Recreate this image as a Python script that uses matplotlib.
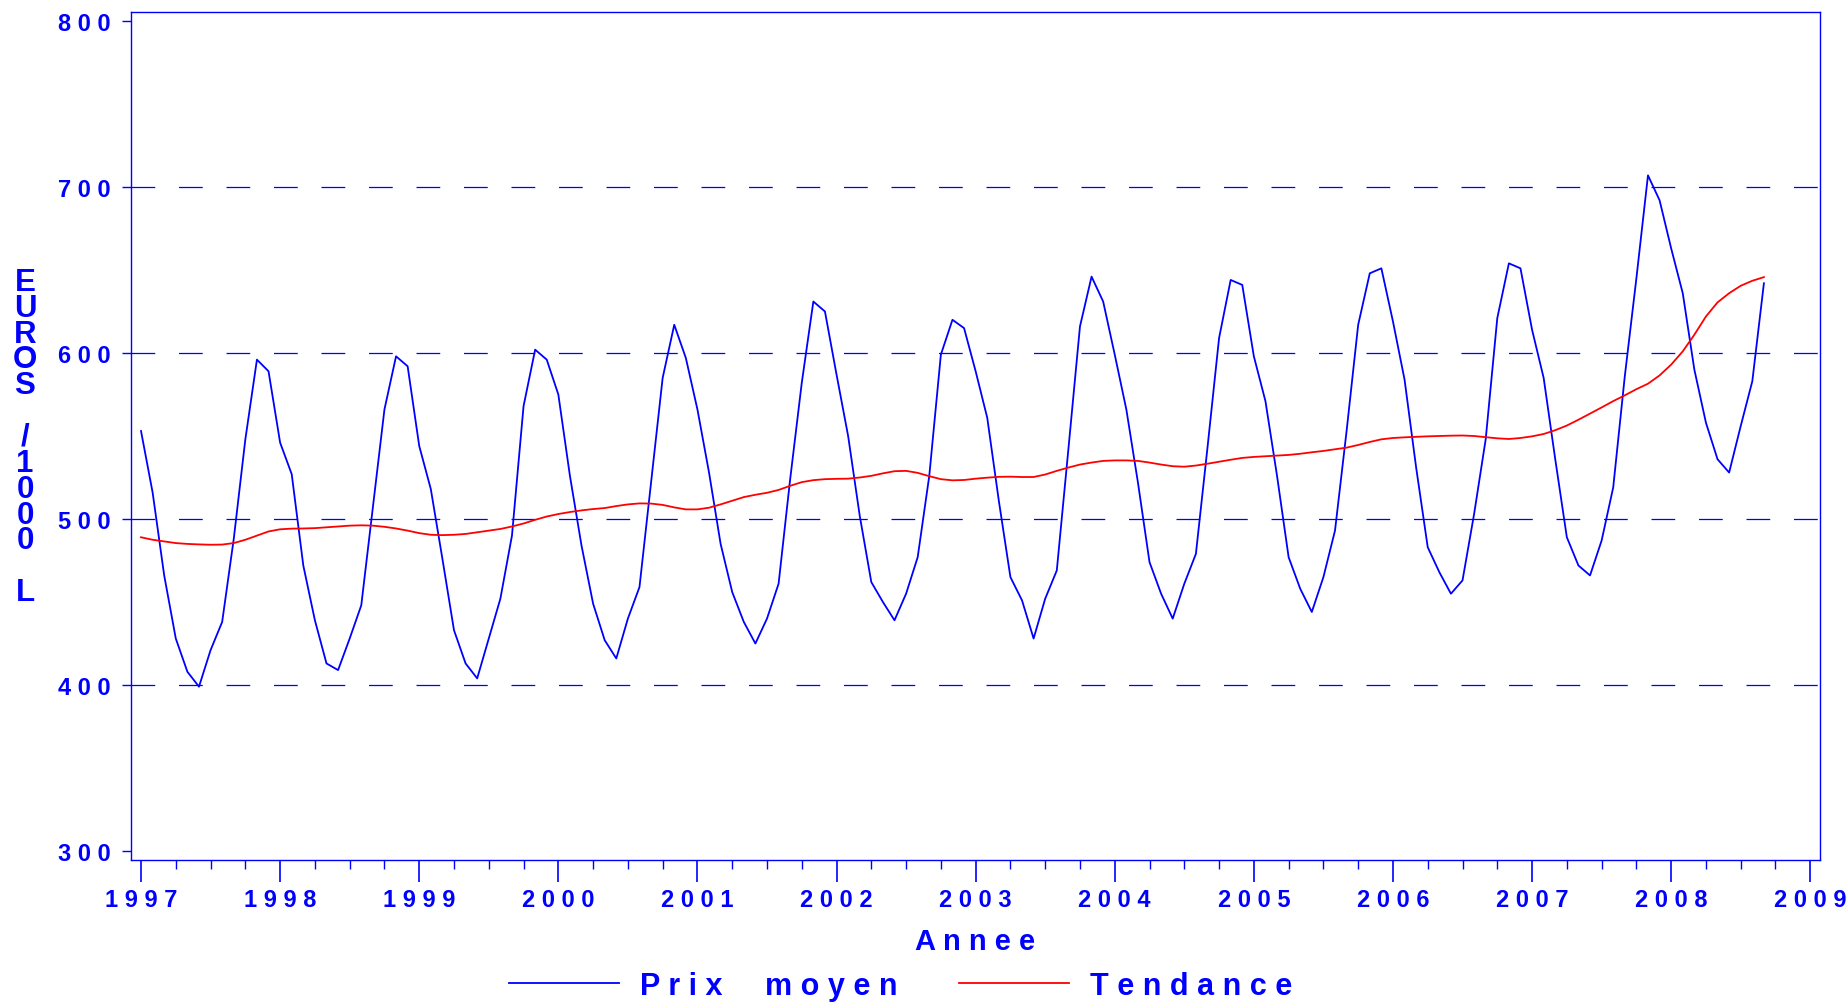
import numpy as np
from matplotlib import pyplot as plt
from matplotlib.ticker import MultipleLocator, FixedLocator

# Prix moyen mensuel, janvier 1997 -> septembre 2008 (EUROS / 1000 L)
prix = [
    553, 516, 466, 428, 408, 399, 421, 438, 488, 548, 596, 589,
    546, 527, 472, 439, 413, 409, 428, 448, 507, 566, 598, 592,
    544, 518, 476, 433, 413, 404, 428, 452, 490, 568, 602, 596,
    575, 526, 484, 449, 427, 416, 440, 459, 522, 585, 617, 597,
    566, 528, 485, 456, 438, 425, 440, 461, 524, 582, 631, 625,
    587, 550, 502, 462, 450, 439, 455, 477, 526, 599, 620, 615,
    589, 561, 511, 465, 451, 428, 452, 469, 542, 616, 646, 631,
    599, 566, 522, 474, 455, 440, 461, 479, 543, 609, 644, 641,
    598, 571, 526, 477, 458, 444, 465, 493, 553, 617, 648, 651,
    619, 584, 531, 483, 468, 455, 463, 503, 548, 621, 654, 651,
    614, 585, 536, 489, 472, 466, 487, 519, 586, 645, 707, 692,
    663, 636, 590, 558, 536, 528, 556, 583, 642,
]

# Tendance lissee, memes mois
tendance = [
    489, 487.5, 486.5, 485.5, 485, 484.7, 484.5, 484.6, 485.5, 487.5, 490, 492.5,
    493.8, 494.2, 494.3, 494.5, 495, 495.5, 496, 496.2, 496, 495.3, 494.3, 493,
    491.5, 490.5, 490.3, 490.5, 491, 492, 493, 494, 495.5, 497.3, 499.5, 501.5,
    503, 504.2, 505.2, 506, 506.6, 507.8, 508.8, 509.4, 509.3, 508.5, 507, 505.8,
    505.8, 506.8, 508.8, 511, 513.2, 514.6, 515.8, 517.5, 520, 522.2, 523.4, 524,
    524.2, 524.3, 525, 526, 527.5, 528.8, 529, 527.8, 525.8, 524, 523.3, 523.5,
    524.3, 524.9, 525.4, 525.5, 525.3, 525.3, 526.8, 529, 531, 532.8, 534, 535,
    535.3, 535.3, 535, 534, 532.8, 531.8, 531.5, 532.2, 533.3, 534.5, 535.7, 536.8,
    537.4, 537.8, 538.2, 538.6, 539.3, 540.2, 541, 542, 543, 544.6, 546.4, 548,
    548.8, 549.2, 549.5, 549.8, 550, 550.2, 550.3, 550, 549.3, 548.6, 548.2, 548.8,
    549.8, 551.2, 553.5, 556.3, 559.8, 563.5, 567.2, 571, 574.5, 578.2, 581.5, 586.5,
    593, 601, 611, 622, 630.5, 636, 640.5, 643.5, 645.7,
]

annees = list(range(1997, 2010))
niveaux_y = [300, 400, 500, 600, 700, 800]
grille_y = [400, 500, 600, 700]

mois = 1997 + np.arange(len(prix)) / 12.0

bleu = '#0000ff'
rouge = '#ff0000'
plt.rcParams['font.family'] = ['Liberation Sans', 'DejaVu Sans']
plt.rcParams['font.weight'] = 'bold'

fig = plt.figure(figsize=(18.49, 10.04), dpi=100)
ax = fig.add_axes([0.07085, 0.14243, 0.91347, 0.84462])

# lignes de grille pointillees
for g in grille_y:
    ax.axhline(g, color=bleu, lw=0.9, ls=(0, (19, 19)), zorder=1)

ax.plot(mois, prix, color=bleu, lw=1.3, label='P r i x     m o y e n', zorder=3)
ax.plot(mois, tendance, color=rouge, lw=1.3, label='T e n d a n c e', zorder=3)

ax.set_xlim(1996.928, 2009.07)
ax.set_ylim(294.6, 805.4)

# axes
for s in ax.spines.values():
    s.set_color(bleu)
    s.set_linewidth(1.0)

ax.xaxis.set_major_locator(FixedLocator(annees))
ax.set_xticklabels([' '.join(str(a)) for a in annees])
ax.xaxis.set_minor_locator(MultipleLocator(0.25))
ax.yaxis.set_major_locator(FixedLocator(niveaux_y))
ax.set_yticklabels([' '.join(str(v)) for v in niveaux_y])

ax.tick_params(axis='x', which='major', direction='out', length=16, width=1.2,
               colors=bleu, labelsize=17, pad=4)
ax.tick_params(axis='x', which='minor', direction='out', length=6.5, width=1.0,
               colors=bleu)
ax.tick_params(axis='y', which='major', direction='out', length=6.5, width=1.0,
               colors=bleu, labelsize=17, pad=8)
for lab in ax.get_xticklabels() + ax.get_yticklabels():
    lab.set_fontweight('bold')

ax.set_xlabel('A n n e e', fontsize=21, color=bleu, fontweight='bold', labelpad=11.5)

# titre de l'axe y : lettres empilees
titre_y = 'EUROS /1000 L'
fig.text(0.0135, 1 - 438 / 1004, '\n'.join(titre_y),
         fontsize=22.5, color=bleu, fontweight='bold', ha='center', va='center',
         multialignment='center', linespacing=0.82)

leg = ax.legend(loc='center', bbox_to_anchor=(0.487, 0.017), bbox_transform=fig.transFigure,
                ncol=2, frameon=False, fontsize=22, handlelength=3.6,
                handletextpad=0.7, columnspacing=2.0)
for t in leg.get_texts():
    t.set_color(bleu)
    t.set_fontweight('bold')

fig.savefig('out.png', dpi=100)
